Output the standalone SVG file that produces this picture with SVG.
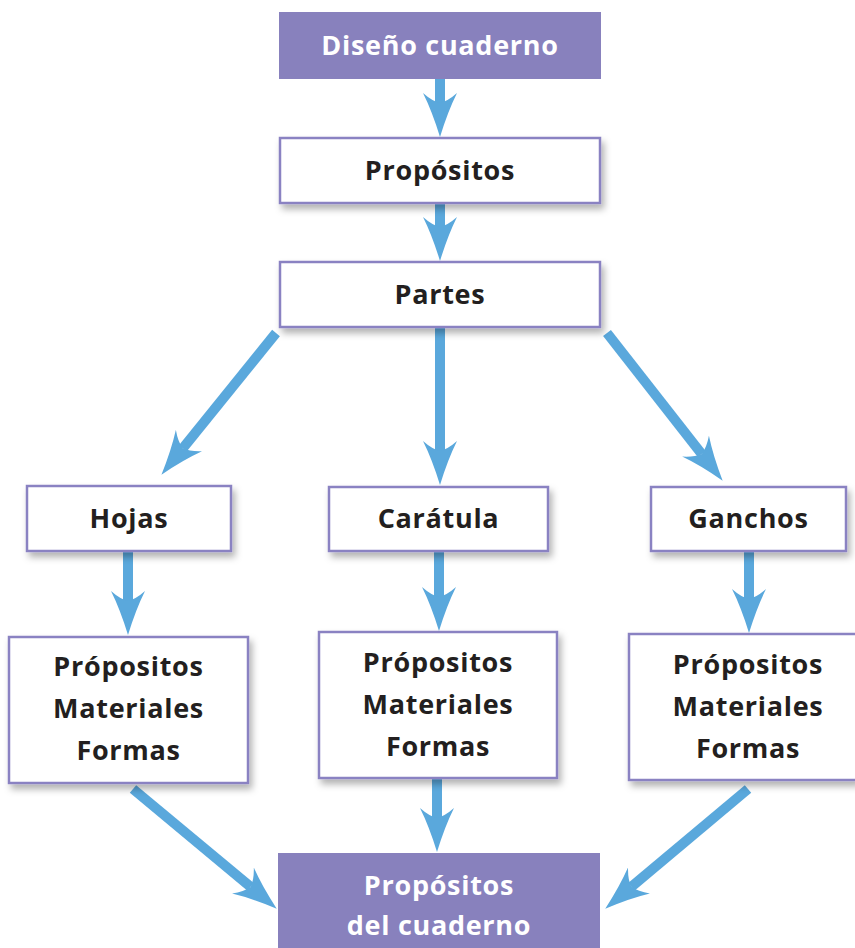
<svg xmlns="http://www.w3.org/2000/svg" width="855" height="948" viewBox="0 0 855 948">
<defs>
<filter id="sh" x="-10%" y="-10%" width="125%" height="135%">
<feDropShadow dx="3" dy="5" stdDeviation="3.5" flood-color="#000" flood-opacity="0.3"/>
</filter>
<marker id="ah" markerUnits="userSpaceOnUse" viewBox="0 0 44 34" refX="10" refY="17" markerWidth="44" markerHeight="34" orient="auto">
<path d="M44,17 Q18,9 0,0 Q8,9 10,17 Q8,25 0,34 Q18,25 44,17 Z" fill="#5aa8dc"/>
</marker>
</defs>
<style>
.w{fill:#fff;stroke:#8a82c2;stroke-width:2.5;filter:url(#sh)}
.p{fill:#8881bd}
.t{font-family:"Open Sans","Noto Sans","DejaVu Sans",sans-serif;font-weight:bold;font-size:27px;letter-spacing:0.7px;fill:#231f20;text-anchor:middle}
.tw{fill:#fff}
.c{stroke:#5aa8dc;stroke-width:10;fill:none;marker-end:url(#ah)}
</style>
<g id="connectors">
<line class="c" x1="440" y1="79" x2="440" y2="103"/>
<line class="c" x1="440" y1="203" x2="440" y2="227"/>
<line class="c" x1="276" y1="333" x2="182.8" y2="448.3"/>
<line class="c" x1="440" y1="327" x2="440" y2="451"/>
<line class="c" x1="607" y1="333" x2="701.7" y2="454"/>
<line class="c" x1="128" y1="551" x2="128" y2="601"/>
<line class="c" x1="439" y1="551" x2="439" y2="597"/>
<line class="c" x1="749" y1="551" x2="749" y2="599"/>
<line class="c" x1="133" y1="789" x2="250.6" y2="886.9"/>
<line class="c" x1="437" y1="778" x2="437" y2="818"/>
<line class="c" x1="748" y1="789" x2="631.3" y2="886.8"/>
</g>
<g id="n-diseno">
<rect class="p" x="279" y="12" width="322" height="67"/>
<text class="t tw" x="440" y="55">Diseño cuaderno</text>
</g>
<g id="n-propositos">
<rect class="w" x="280" y="138" width="320" height="65"/>
<text class="t" x="440" y="180">Propósitos</text>
</g>
<g id="n-partes">
<rect class="w" x="280" y="262" width="320" height="65"/>
<text class="t" x="440" y="304">Partes</text>
</g>
<g id="n-hojas">
<rect class="w" x="27" y="486" width="204" height="65"/>
<text class="t" x="129" y="528">Hojas</text>
</g>
<g id="n-caratula">
<rect class="w" x="329" y="487" width="219" height="64"/>
<text class="t" x="438.5" y="528">Carátula</text>
</g>
<g id="n-ganchos">
<rect class="w" x="651" y="487" width="195" height="64"/>
<text class="t" x="748.5" y="528">Ganchos</text>
</g>
<g id="n-hojas-detalle">
<rect class="w" x="9" y="637" width="239" height="146"/>
<text class="t" x="128.5" y="676">Própositos</text>
<text class="t" x="128.5" y="718">Materiales</text>
<text class="t" x="128.5" y="760">Formas</text>
</g>
<g id="n-caratula-detalle">
<rect class="w" x="319" y="632" width="238" height="146"/>
<text class="t" x="438" y="672">Própositos</text>
<text class="t" x="438" y="714">Materiales</text>
<text class="t" x="438" y="756">Formas</text>
</g>
<g id="n-ganchos-detalle">
<rect class="w" x="629" y="634" width="228" height="146"/>
<text class="t" x="748" y="674">Própositos</text>
<text class="t" x="748" y="716">Materiales</text>
<text class="t" x="748" y="758">Formas</text>
</g>
<g id="n-final">
<rect class="p" x="278" y="853" width="322" height="97"/>
<text class="t tw" x="439" y="895">Propósitos</text>
<text class="t tw" x="439" y="935">del cuaderno</text>
</g>
</svg>
